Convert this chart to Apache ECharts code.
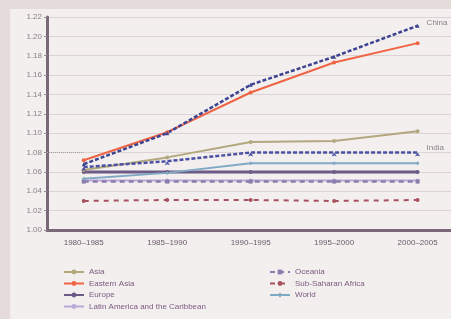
<!DOCTYPE html>
<html>
<head>
<meta charset="utf-8">
<script src="https://cdn.jsdelivr.net/npm/echarts@6/dist/echarts.min.js"></script>
<style>
  html, body { margin: 0; padding: 0; background: #e6dbdb; }
  #chart { width: 451px; height: 319px; }
</style>
</head>
<body>
<div id="chart"></div>
<script>
// periods on the x axis
const periods = ['1980–1985', '1985–1990', '1990–1995', '1995–2000', '2000–2005']

// sex ratio at birth
const china = [1.068, 1.100, 1.150, 1.179, 1.211]
const easternAsia = [1.072, 1.101, 1.142, 1.173, 1.193]
const asia = [1.062, 1.075, 1.091, 1.092, 1.102]
const india = [1.065, 1.071, 1.080, 1.080, 1.080]
const world = [1.053, 1.059, 1.069, 1.069, 1.069]
const europe = [1.060, 1.060, 1.060, 1.060, 1.060]
const latinAmerica = [1.051, 1.051, 1.051, 1.051, 1.051]
const oceania = [1.050, 1.050, 1.050, 1.050, 1.050]
const subSaharan = [1.030, 1.031, 1.031, 1.030, 1.031]

const pts = arr => arr.map((v, i) => [i, v])

let dom = echarts.init(document.getElementById('chart'))

function lineSeries(name, data, color, width, type, symbol) {
    return {
        name: name,
        type: 'line',
        data: pts(data),
        symbol: symbol || 'circle',
        symbolSize: 4,
        itemStyle: { color: color },
        lineStyle: { color: color, width: width, type: type || 'solid' },
        emphasis: { disabled: true }
    }
}

let legendText = { color: '#7a5a80', fontSize: 8, fontFamily: 'Liberation Sans' }

let option = {
    backgroundColor: '#e6dbdb',
    animation: false,
    graphic: [{
        type: 'rect',
        left: 10, top: 9,
        shape: { width: 441, height: 311 },
        style: { fill: '#f3efee' },
        z: -10
    }],
    grid: { left: 47, right: 0, top: 17, bottom: 89 },
    xAxis: {
        type: 'value',
        min: -0.44,
        max: 4.4,
        splitLine: { show: false },
        axisTick: { show: false },
        axisLine: { onZero: false, lineStyle: { color: '#7a6878', width: 3 } },
        axisLabel: {
            color: '#6a5a6a', fontSize: 8, fontFamily: 'Liberation Sans', margin: 9,
            showMinLabel: false, showMaxLabel: false,
            formatter: function (v) {
                return Number.isInteger(v) && periods[v] ? periods[v] : ''
            }
        }
    },
    yAxis: {
        type: 'value',
        min: 1.00,
        max: 1.22,
        interval: 0.02,
        axisLine: { show: true, onZero: false, lineStyle: { color: '#7a6878', width: 3 } },
        axisTick: { show: true, length: 3, lineStyle: { color: '#9a8a98' } },
        splitLine: { lineStyle: { color: '#dcd4d4', width: 1 } },
        axisLabel: {
            color: '#8a8288', fontSize: 8, fontFamily: 'Liberation Sans', margin: 5,
            formatter: v => v.toFixed(2)
        }
    },
    legend: [
        {
            orient: 'vertical', left: 58, top: 263,
            itemWidth: 20, itemHeight: 6, itemGap: 3.5,
            textStyle: legendText,
            data: ['Asia', 'Eastern Asia', 'Europe', 'Latin America and the Caribbean']
        },
        {
            orient: 'vertical', left: 264, top: 263,
            itemWidth: 20, itemHeight: 6, itemGap: 3.5,
            textStyle: legendText,
            data: ['Oceania', 'Sub-Saharan Africa', 'World']
        }
    ],
    series: [
        lineSeries('Latin America and the Caribbean', latinAmerica, '#b9abd9', 2),
        lineSeries('Oceania', oceania, '#8c7cab', 2.5, [5, 4], 'rect'),
        lineSeries('Sub-Saharan Africa', subSaharan, '#a8525f', 2, [5, 5]),
        lineSeries('Europe', europe, '#6b5b86', 3),
        lineSeries('World', world, '#80a9c6', 2, 'solid', 'diamond'),
        lineSeries('Asia', asia, '#b2a77d', 2),
        Object.assign(lineSeries('India', india, '#4a50a3', 2.5, [4, 2], 'arrow'), {
            endLabel: { show: true, formatter: 'India', color: '#8a8288', fontSize: 8,
                fontFamily: 'Liberation Sans', offset: [1, -5] },
            markLine: {
                silent: true, symbol: 'none', label: { show: false },
                lineStyle: { color: '#b0a0a0', type: 'dotted', width: 1 },
                data: [[{ coord: [-0.44, 1.08] }, { coord: [0, 1.08] }]]
            }
        }),
        lineSeries('Eastern Asia', easternAsia, '#ef6444', 2),
        Object.assign(lineSeries('China', china, '#3d4592', 2.5, [4, 2], 'triangle'), {
            endLabel: { show: true, formatter: 'China', color: '#8a8288', fontSize: 8,
                fontFamily: 'Liberation Sans', offset: [1, -3] }
        })
    ]
}

dom.setOption(option)
</script>
</body>
</html>
